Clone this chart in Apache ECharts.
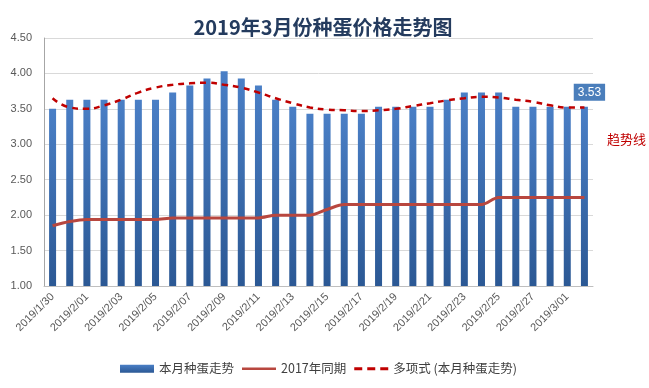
<!DOCTYPE html>
<html>
<head>
<meta charset="utf-8">
<script src="https://cdn.jsdelivr.net/npm/echarts@6/dist/echarts.min.js"></script>
<style>html,body{margin:0;padding:0;background:#fff}#c{width:649px;height:388px}</style>
</head>
<body>
<div id="c"></div>
<script>
var categories = ['2019/1/30','2019/1/31','2019/2/01','2019/2/02','2019/2/03','2019/2/04','2019/2/05','2019/2/06','2019/2/07','2019/2/08','2019/2/09','2019/2/10','2019/2/11','2019/2/12','2019/2/13','2019/2/14','2019/2/15','2019/2/16','2019/2/17','2019/2/18','2019/2/19','2019/2/20','2019/2/21','2019/2/22','2019/2/23','2019/2/24','2019/2/25','2019/2/26','2019/2/27','2019/2/28','2019/3/01','2019/3/02'];
var thisMonth = [3.50,3.63,3.63,3.63,3.63,3.63,3.63,3.73,3.83,3.93,4.03,3.93,3.83,3.63,3.53,3.43,3.43,3.43,3.43,3.53,3.53,3.53,3.53,3.63,3.73,3.73,3.73,3.53,3.53,3.53,3.53,3.53];
var lastYear2017 = [1.85,1.91,1.94,1.94,1.94,1.94,1.94,1.96,1.96,1.96,1.96,1.96,1.96,2.00,2.00,2.00,2.08,2.15,2.15,2.15,2.15,2.15,2.15,2.15,2.15,2.15,2.25,2.25,2.25,2.25,2.25,2.25];
var trend = [3.65,3.52,3.50,3.55,3.63,3.73,3.80,3.84,3.86,3.87,3.84,3.80,3.73,3.65,3.58,3.52,3.49,3.48,3.47,3.48,3.50,3.54,3.58,3.62,3.65,3.67,3.66,3.63,3.60,3.55,3.52,3.52];
var seriesNames = ['本月种蛋走势','2017年同期','多项式 (本月种蛋走势)'];
var titleText = '2019年3月份种蛋价格走势图';
var trendLabel = '趋势线';

var chart = echarts.init(document.getElementById('c'), null, {renderer:'canvas'});
var barColor = new echarts.graphic.LinearGradient(0,0,0,1,[{offset:0,color:'#4A7FC6'},{offset:1,color:'#2B5894'}]);
var barData = thisMonth.map(function(v,i){
  if (i === thisMonth.length-1) {
    return {value:v, label:{show:true, position:'top', distance:6, offset:[5,0], formatter:function(p){return p.value.toFixed(2);}, color:'#fff', backgroundColor:'#4A7EBB', padding:[3,4,2,4], fontSize:12, fontFamily:'Liberation Sans'}};
  }
  return v;
});
chart.setOption({
  animation:false,
  title:{text:titleText, left:318, top:12, textAlign:'center', textStyle:{fontFamily:'Noto Sans CJK SC', fontSize:20, fontWeight:'bold', color:'#243B5E'}},
  grid:{left:44, right:56, top:38, bottom:102},
  legend:{bottom:8, left:115, itemGap:8, itemWidth:34, itemHeight:8, symbolKeepAspect:true, textStyle:{fontFamily:'Noto Sans CJK SC', fontSize:12.5, color:'#404040'},
    data:[
      {name:seriesNames[0], icon:'rect'},
      {name:seriesNames[1], icon:'path://M0,0L34,0L34,2.5L0,2.5Z'},
      {name:seriesNames[2], icon:'path://M0,0h8v3h-8zM13,0h8v3h-8zM26,0h8v3h-8z'}
    ]},
  xAxis:{type:'category', data:categories, boundaryGap:true,
    axisLine:{lineStyle:{color:'#BFBFBF'}}, axisTick:{show:false},
    axisLabel:{interval:1, rotate:45, margin:9, fontSize:11, color:'#595959', fontFamily:'Liberation Sans'}},
  yAxis:{type:'value', min:1, max:4.5, interval:0.5,
    axisLine:{show:true, lineStyle:{color:'#A6A6A6'}}, axisTick:{show:false},
    splitLine:{lineStyle:{color:'#D9D9D9'}},
    axisLabel:{margin:12, fontSize:11, color:'#595959', fontFamily:'Liberation Sans', formatter:function(v){return v.toFixed(2);}}},
  series:[
    {name:seriesNames[0], type:'bar', data:barData, barWidth:7, itemStyle:{color:barColor}},
    {name:seriesNames[1], type:'line', data:lastYear2017, smooth:0.3, symbol:'none', lineStyle:{color:'#B8473F', width:3}, itemStyle:{color:'#B8473F'}},
    {name:seriesNames[2], type:'line', data:trend, smooth:true, symbol:'none', lineStyle:{color:'#C00000', width:2.5, type:[6,5]}, itemStyle:{color:'#C00000'}}
  ],
  graphic:[{type:'text', left:607, top:133, style:{text:trendLabel, fill:'#C00000', font:'13px "Noto Sans CJK SC"'}}]
});
</script>
</body>
</html>
